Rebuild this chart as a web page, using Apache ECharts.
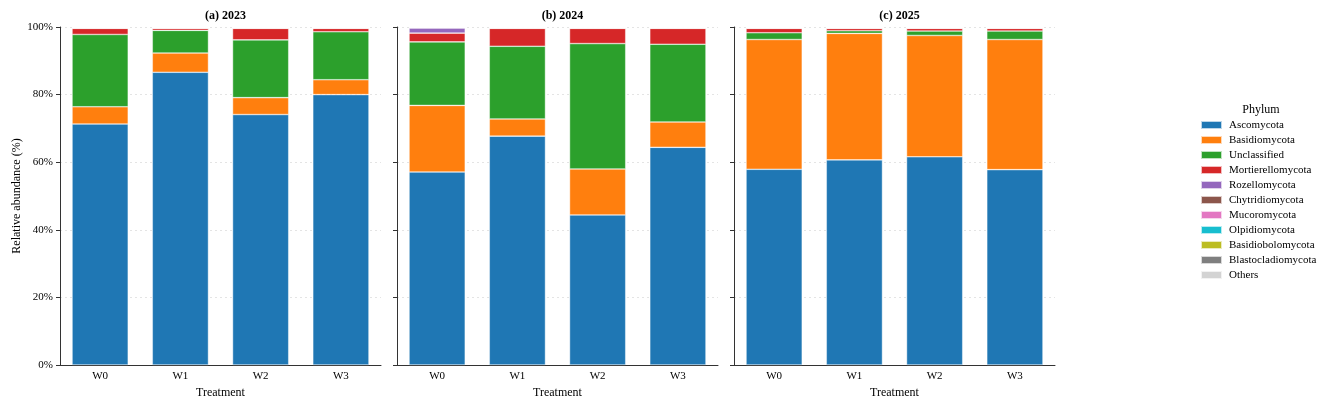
<!DOCTYPE html>
<html>
<head>
<meta charset="utf-8">
<script src="https://cdn.jsdelivr.net/npm/echarts@6/dist/echarts.min.js"></script>
<style>
  html, body { margin: 0; padding: 0; background: #fff; }
  #chart { width: 1324px; height: 404px; }
</style>
</head>
<body>
<div id="chart"></div>
<script>
// treatments and panels
const treatments = ['W0', 'W1', 'W2', 'W3'];
const panelTitles = ['(a) 2023', '(b) 2024', '(c) 2025'];
const yTicks = [0, 20, 40, 60, 80, 100];

const phyla = ['Ascomycota', 'Basidiomycota', 'Unclassified', 'Mortierellomycota', 'Rozellomycota',
  'Chytridiomycota', 'Mucoromycota', 'Olpidiomycota', 'Basidiobolomycota', 'Blastocladiomycota', 'Others'];
const colors = ['#1f77b4', '#ff7f0e', '#2ca02c', '#d62728', '#9467bd',
  '#8c564b', '#e377c2', '#17becf', '#bcbd22', '#7f7f7f', '#d3d3d3'];

// relative abundance (%) per year, W0..W3
const asco = [[71.3, 86.6, 74.1, 80.0], [57.1, 67.7, 44.4, 64.4], [57.9, 60.7, 61.6, 57.8]];
const basidio = [[5.1, 5.7, 5.0, 4.4], [19.7, 5.1, 13.6, 7.5], [38.4, 37.4, 35.9, 38.5]];
const unclassified = [[21.4, 6.7, 17.1, 14.2], [18.8, 21.5, 37.1, 23.0], [2.0, 0.8, 1.3, 2.5]];
const mortierello = [[1.8, 0.6, 3.4, 1.0], [2.6, 5.3, 4.5, 4.7], [1.3, 0.7, 0.8, 0.8]];
const rozello = [[0.1, 0.1, 0.1, 0.1], [1.5, 0.1, 0.1, 0.1], [0.1, 0.1, 0.1, 0.1]];
const chytridio = [[0.1, 0.1, 0.1, 0.1], [0.1, 0.1, 0.1, 0.1], [0.1, 0.1, 0.1, 0.1]];
const mucoro = [[0.05, 0.05, 0.05, 0.05], [0.05, 0.05, 0.05, 0.05], [0.05, 0.05, 0.05, 0.05]];
const olpidio = [[0.02, 0.02, 0.02, 0.02], [0.02, 0.02, 0.02, 0.02], [0.02, 0.02, 0.02, 0.02]];
const basidiobolo = [[0.02, 0.02, 0.02, 0.02], [0.02, 0.02, 0.02, 0.02], [0.02, 0.02, 0.02, 0.02]];
const blastocladio = [[0.01, 0.01, 0.01, 0.01], [0.01, 0.01, 0.01, 0.01], [0.01, 0.01, 0.01, 0.01]];
const others = [[0.05, 0.05, 0.05, 0.05], [0.05, 0.05, 0.05, 0.05], [0.05, 0.05, 0.05, 0.05]];

const phylumData = [asco, basidio, unclassified, mortierello, rozello, chytridio,
  mucoro, olpidio, basidiobolo, blastocladio, others];

const font = 'Liberation Serif';
const axisColor = '#333';
const gridLefts = [60, 397, 734];
const gridWidth = 321;

const grids = [];
const xAxes = [];
const yAxes = [];
const titles = [];
const series = [];

gridLefts.forEach((left, g) => {
  grids.push({ left: left, top: 27, width: gridWidth, height: 338 });
  titles.push({
    text: panelTitles[g],
    left: left + gridWidth / 2,
    top: 5,
    textAlign: 'center',
    textStyle: { fontFamily: font, fontSize: 12, fontWeight: 'bold', color: '#000' }
  });
  xAxes.push({
    type: 'category',
    gridIndex: g,
    data: treatments,
    name: 'Treatment',
    nameLocation: 'middle',
    nameGap: 21,
    nameTextStyle: { fontFamily: font, fontSize: 12, color: '#000' },
    axisLine: { lineStyle: { color: axisColor, width: 1 } },
    axisTick: { alignWithLabel: true, length: 4, lineStyle: { color: axisColor } },
    axisLabel: { fontFamily: font, fontSize: 11, color: '#000', margin: 6 }
  });
  yAxes.push({
    type: 'value',
    gridIndex: g,
    min: 0,
    max: 100,
    interval: 20,
    name: g === 0 ? 'Relative abundance (%)' : '',
    nameLocation: 'middle',
    nameGap: 37,
    nameTextStyle: { fontFamily: font, fontSize: 12, color: '#000' },
    axisLine: { show: true, lineStyle: { color: axisColor, width: 1 } },
    axisTick: { show: true, length: 4, lineStyle: { color: axisColor } },
    axisLabel: {
      show: g === 0,
      fontFamily: font, fontSize: 11, color: '#000', margin: 7,
      formatter: v => (yTicks.includes(v) ? v + '%' : '')
    },
    splitLine: { show: true, lineStyle: { color: '#ddd', type: [2, 3], width: 0.8 } }
  });

  phyla.forEach((name, p) => {
    series.push({
      name: name,
      type: 'bar',
      xAxisIndex: g,
      yAxisIndex: g,
      stack: 'panel' + g,
      barWidth: '70%',
      data: phylumData[p][g],
      itemStyle: { color: colors[p], borderColor: 'rgba(255,255,255,0.7)', borderWidth: 0.6 },
      emphasis: { disabled: true }
    });
  });
});

titles.push({
  text: 'Phylum',
  left: 1256,
  top: 99,
  textAlign: 'center',
  textStyle: { fontFamily: font, fontSize: 12, fontWeight: 'normal', color: '#000' }
});

const chart = echarts.init(document.getElementById('chart'), null, { renderer: 'canvas' });
chart.setOption({
  animation: false,
  backgroundColor: '#fff',
  title: titles,
  grid: grids,
  xAxis: xAxes,
  yAxis: yAxes,
  legend: {
    data: phyla,
    orient: 'vertical',
    left: 1200,
    top: 118,
    padding: 0,
    itemWidth: 21,
    itemHeight: 8,
    itemGap: 1,
    icon: 'rect',
    textStyle: { fontFamily: font, fontSize: 11, color: '#000', lineHeight: 14, padding: [0, 0, 0, 2] }
  },
  series: series
});
</script>
</body>
</html>
